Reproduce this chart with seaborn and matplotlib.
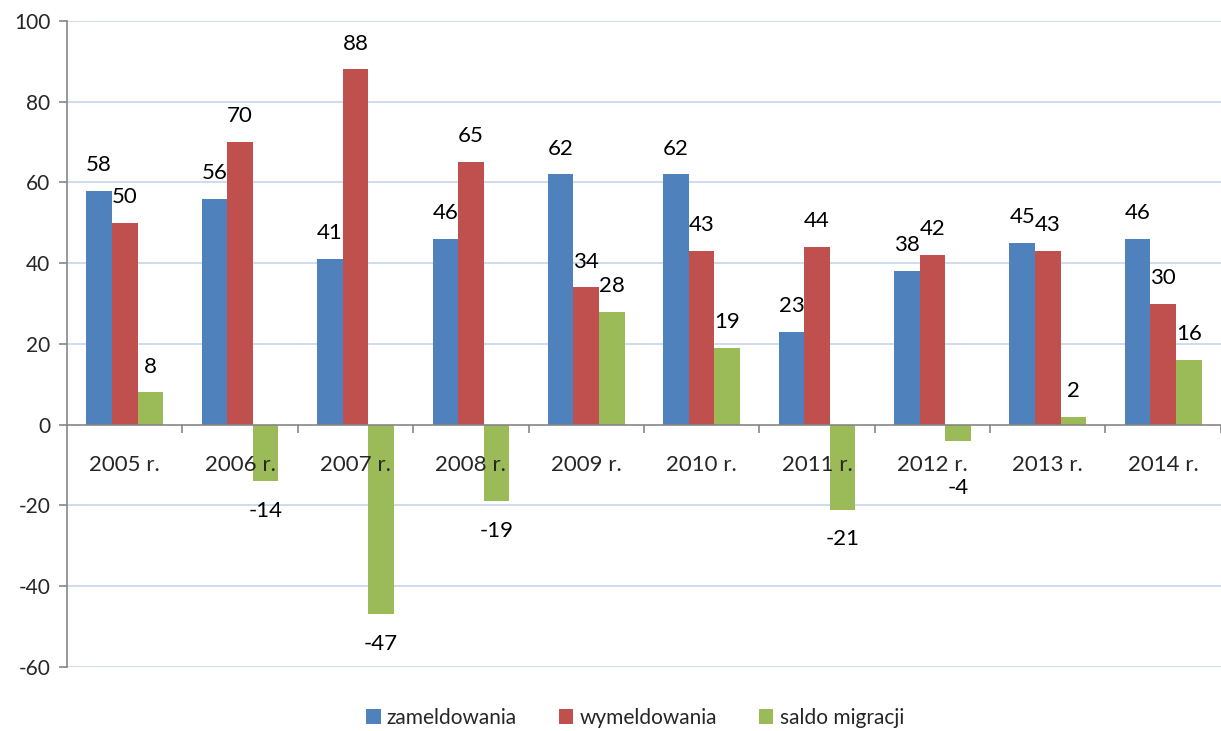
import matplotlib
matplotlib.use("Agg")
import matplotlib.pyplot as plt
import seaborn as sns
import pandas as pd
from matplotlib.patches import Patch

years = ["2005 r.", "2006 r.", "2007 r.", "2008 r.", "2009 r.",
         "2010 r.", "2011 r.", "2012 r.", "2013 r.", "2014 r."]
zameldowania = [58, 56, 41, 46, 62, 62, 23, 38, 45, 46]
wymeldowania = [50, 70, 88, 65, 34, 43, 44, 42, 43, 30]
saldo = [8, -14, -47, -19, 28, 19, -21, -4, 2, 16]
series_names = ["zameldowania", "wymeldowania", "saldo migracji"]
colors = ["#4f81bd", "#c0504d", "#9bbb59"]
yticks = [-60, -40, -20, 0, 20, 40, 60, 80, 100]

df = pd.DataFrame({
    "rok": years * 3,
    "seria": [series_names[0]] * 10 + [series_names[1]] * 10 + [series_names[2]] * 10,
    "wartosc": zameldowania + wymeldowania + saldo,
})

sns.set_style("white")
plt.rcParams["font.family"] = ["Lato", "DejaVu Sans"]

fig = plt.figure(figsize=(12.21, 7.31), dpi=100)
ax = fig.add_axes([0.0549, 0.0876, 0.945, 0.9713 - 0.0876])

sns.barplot(data=df, x="rok", y="wartosc", hue="seria", hue_order=series_names,
            palette=colors, width=0.665, gap=0, saturation=1, errorbar=None,
            ax=ax, legend=False, linewidth=0, edgecolor="none", zorder=1)
# axis (tick labels, zero line) drawn above the bars
ax.set_axisbelow(False)

ax.set_ylim(-60, 100)
ax.set_xlim(-0.5, len(years) - 0.5)

# horizontal gridlines behind bars
for v in yticks:
    if v != 0:
        ax.axhline(v, color="#c6d6ec", lw=1.2, zorder=0)

# value labels; negative ones are kept below the category labels
for cont in ax.containers:
    for bar in cont:
        h = bar.get_height()
        x = bar.get_x() + bar.get_width() / 2
        if h >= 0:
            y = h + 6.4
        else:
            y = min(h - 7.4, -15.6)
        ax.text(x, y, f"{h:.0f}", ha="center", va="center", fontsize=16, color="#000000", zorder=3)

# axes styling
for s in ["top", "right"]:
    ax.spines[s].set_visible(False)
ax.spines["left"].set_color("#868686")
ax.spines["left"].set_linewidth(1.2)
ax.spines["bottom"].set_position(("data", 0))
ax.spines["bottom"].set_color("#868686")
ax.spines["bottom"].set_linewidth(1.2)

ax.set_yticks(yticks)
ax.set_yticklabels([str(v) for v in yticks], fontsize=15)
ax.tick_params(axis="y", direction="out", length=6, width=1.2, color="#868686", pad=6, left=True)

ax.set_xticks(range(len(years)))
ax.set_xticklabels(years, fontsize=16)
ax.set_xticks([i - 0.5 for i in range(1, len(years) + 1)], minor=True)
ax.tick_params(axis="x", which="major", length=0, pad=22, bottom=True)
ax.tick_params(axis="x", which="minor", direction="out", length=6, width=1.2, color="#868686", bottom=True)
ax.set_xlabel("")
ax.set_ylabel("")

handles = [Patch(facecolor=c, edgecolor="none", label=n) for c, n in zip(colors, series_names)]
fig.legend(handles=handles, loc="center", bbox_to_anchor=(0.52, 0.018), ncol=3, frameon=False,
           fontsize=15, handlelength=0.7, handleheight=0.7, handletextpad=0.3, columnspacing=2.0)

fig.savefig("out.png", dpi=100)
